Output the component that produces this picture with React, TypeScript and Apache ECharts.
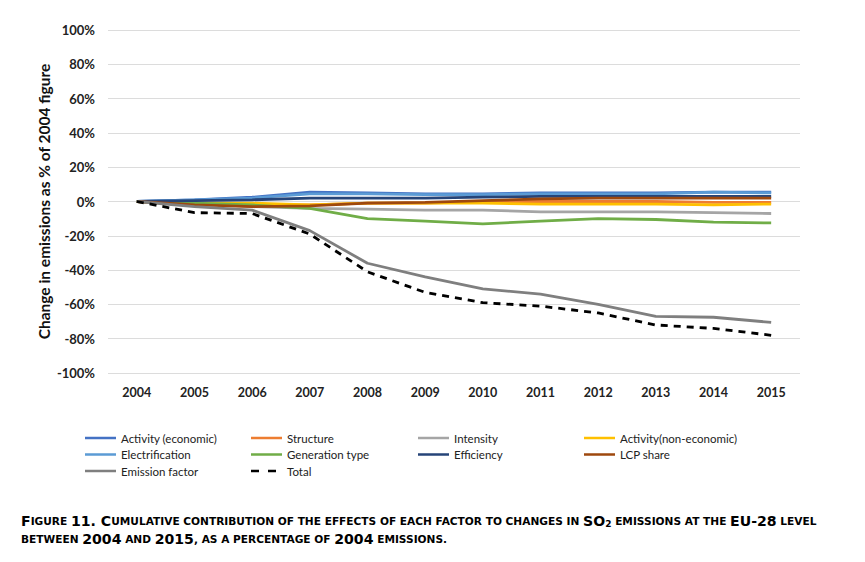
import React, { useEffect, useRef } from "react";
import * as echarts from "echarts";

const years = ["2004","2005","2006","2007","2008","2009","2010","2011","2012","2013","2014","2015"];
const activityEconomic = [0, 1, 2.5, 5.5, 5, 4.5, 4.5, 5, 5, 5, 5.5, 5.5];
const structure = [0, -1, -2, -2, -1, -1, 0, 0, 0, 0, -0.5, -0.5];
const intensity = [0, -1, -3, -4, -4.5, -5, -5, -6, -6, -6, -6.5, -7];
const activityNonEconomic = [0, -1, -1, -2, -1, -1, -1, -1.5, -1.5, -1.5, -2, -1.5];
const electrification = [0, 1, 2, 4.5, 4.5, 4, 4, 4.5, 4.5, 4.5, 5.5, 5];
const generationType = [0, -1, -2, -4, -10, -11.5, -13, -11.5, -10, -10.5, -12, -12.5];
const efficiency = [0, 0.5, 1, 2, 2, 2, 2.5, 3, 3, 3, 3, 3];
const lcpShare = [0, -2, -3, -2.5, -1, -0.5, 0.5, 1.5, 2, 2, 2, 2];
const emissionFactor = [0, -3, -5, -17, -36, -44, -51, -54, -60, -67, -67.5, -70.5];
const total = [0, -6.5, -7, -19, -41, -53, -59, -61, -65, -72, -74, -78];

const seriesDefs = [
  { name: "Activity (economic)", data: activityEconomic, color: "#4472C4" },
  { name: "Structure", data: structure, color: "#ED7D31" },
  { name: "Intensity", data: intensity, color: "#A5A5A5" },
  { name: "Activity(non-economic)", data: activityNonEconomic, color: "#FFC000" },
  { name: "Electrification", data: electrification, color: "#5B9BD5" },
  { name: "Generation type", data: generationType, color: "#70AD47" },
  { name: "Efficiency", data: efficiency, color: "#264478" },
  { name: "LCP share", data: lcpShare, color: "#9E480E" },
  { name: "Emission factor", data: emissionFactor, color: "#7F7F7F" },
  { name: "Total", data: total, color: "#000000", dashed: true },
];

const legendColX = [85, 251, 418, 584];
const legendRowY = [438, 454.5, 471];

export default function App() {
  const ref = useRef<HTMLDivElement>(null);
  useEffect(() => {
    if (!ref.current) return;
    const chart = echarts.init(ref.current, null, { renderer: "svg" });
    const capFont = "DejaVu Sans";
    const big = { fontFamily: capFont, fontWeight: "bold", fontSize: 14.1, color: "#111" };
    const sm = { fontFamily: capFont, fontWeight: "bold", fontSize: 10.6, color: "#111" };
    const sub = { fontFamily: capFont, fontWeight: "bold", fontSize: 9, color: "#111", padding: [6, 0, 0, 0] };
    const legendGraphics: any[] = [];
    seriesDefs.forEach((s, i) => {
      const x = legendColX[i % 4];
      const y = legendRowY[Math.floor(i / 4)];
      legendGraphics.push({
        type: "line",
        silent: true,
        shape: { x1: x, y1: y, x2: x + 31, y2: y },
        style: { stroke: s.color, lineWidth: 2.5, lineDash: s.dashed ? [8, 9] : null },
      });
      legendGraphics.push({
        type: "text",
        silent: true,
        x: x + 36,
        y: y,
        style: {
          text: s.name,
          fontFamily: "Lato",
          fontSize: 11.5,
          fill: "#222",
          verticalAlign: "middle",
          align: "left",
        },
      });
    });
    chart.setOption({
      animation: false,
      grid: { left: 108, right: 65, top: 30, bottom: 189 },
      xAxis: {
        type: "category",
        data: years,
        boundaryGap: true,
        axisLine: { show: false },
        axisTick: { show: false },
        axisLabel: { fontFamily: "Lato", fontWeight: "bold", fontSize: 12.5, color: "#222", margin: 13 },
      },
      yAxis: {
        type: "value",
        min: -100,
        max: 100,
        interval: 20,
        name: "Change in emissions as % of 2004 figure",
        nameLocation: "middle",
        nameGap: 56,
        nameMoveOverlap: false,
        nameTextStyle: { fontFamily: "Lato", fontWeight: "bold", fontSize: 15.5, color: "#111" },
        axisLabel: { formatter: "{value}%", fontFamily: "Lato", fontWeight: "bold", fontSize: 13, color: "#222", margin: 13 },
        splitLine: { lineStyle: { color: "#DCDCDC", width: 1 } },
      },
      series: seriesDefs.map((s) => ({
        name: s.name,
        type: "line",
        data: s.data,
        symbol: "none",
        color: s.color,
        lineStyle: { color: s.color, width: 2.8, type: s.dashed ? [7, 6] : "solid" },
      })),
      graphic: [
        ...legendGraphics,
        {
          type: "text",
          left: 21,
          top: 514,
          style: {
            text: "{b|F}{s|IGURE }{b|11. C}{s|UMULATIVE CONTRIBUTION OF THE EFFECTS OF EACH FACTOR TO CHANGES IN }{b|SO}{u|2}{s| EMISSIONS AT THE }{b|EU-28}{s| LEVEL}",
            rich: { b: big, s: sm, u: sub },
          },
        },
        {
          type: "text",
          left: 21,
          top: 532,
          style: {
            text: "{s|BETWEEN }{b|2004}{s| AND }{b|2015}{s|, AS A PERCENTAGE OF }{b|2004}{s| EMISSIONS.}",
            rich: { b: big, s: sm, u: sub },
          },
        },
      ],
    });
    return () => chart.dispose();
  }, []);
  return <div ref={ref} style={{ position: "absolute", left: 0, top: 0, width: 865, height: 562, background: "#fff" }} />;
}
